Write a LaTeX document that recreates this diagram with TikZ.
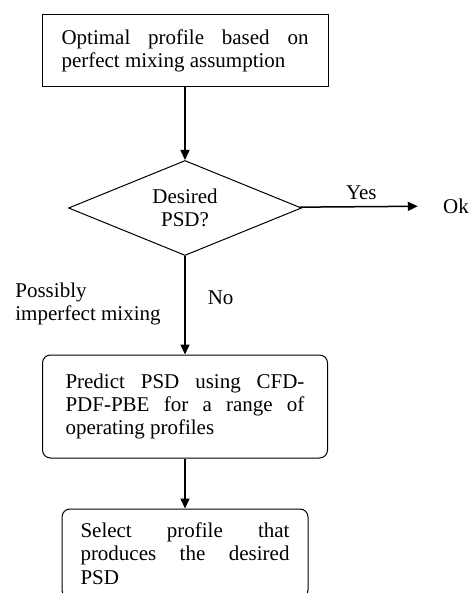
\documentclass[tikz,border=0pt]{standalone}
\usepackage{fontspec}
\setmainfont{Liberation Serif}
\usetikzlibrary{arrows.meta,positioning,shapes.geometric}

\begin{document}
\begin{tikzpicture}[x=0.5pt,y=-0.5pt,font=\fontsize{10.5}{11.7}\selectfont,
  box/.style={draw,line width=0.5pt,inner sep=0pt,align=justify},
  flow/.style={-{Triangle[length=5pt,width=4.5pt]},line width=0.75pt}]
\clip (0,0) rectangle (470,593);
\node[box,minimum width=143pt,minimum height=36pt,text width=123.5pt] (opt) at (185,51)
      {Optimal profile based on\linebreak perfect mixing assumption};
\node[draw,diamond,line width=0.5pt,aspect=2.45,inner sep=0pt,minimum width=116.5pt,
      minimum height=47.5pt,align=center] (dec) at (185,208) {Desired\\PSD?};
\node[inner sep=0pt] (ok) at (456,206) {Ok};
\node[box,rounded corners=4pt,minimum width=142.5pt,minimum height=51.5pt,text width=119.5pt] (pred) at (185,406.5)
      {Predict PSD using CFD-\linebreak PDF-PBE for a range of\linebreak operating profiles};
\node[box,rounded corners=4pt,minimum width=123pt,minimum height=44.5pt,text width=104.5pt] (sel) at (185,553.5)
      {Select profile that\linebreak produces the desired\linebreak PSD};
\node[anchor=west,align=left,inner sep=0pt] (mix) at (15,304) {Possibly\\imperfect mixing};
\draw[flow] (opt) -- (dec);
\draw[flow,shorten >=12.5pt] (dec) -- node[pos=0.43,above=3pt,inner sep=0pt]{Yes} (ok);
\draw[flow] (dec) -- node[pos=0.42,right=11pt,inner sep=0pt]{No} (pred);
\draw[flow] (pred) -- (sel);
\end{tikzpicture}
\end{document}
